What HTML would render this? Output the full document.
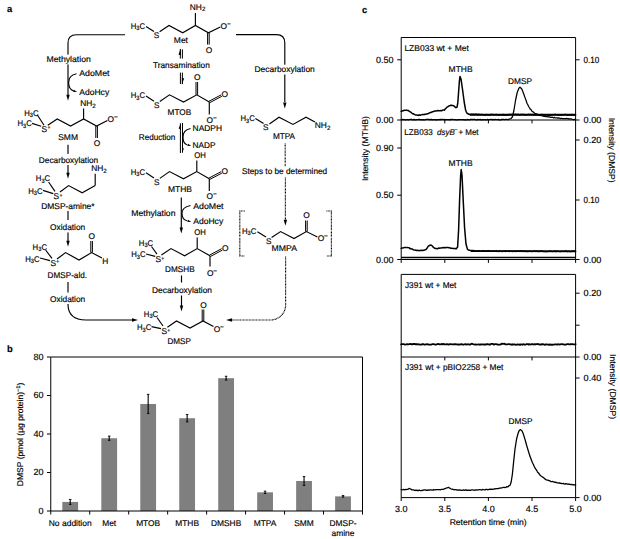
<!DOCTYPE html>
<html><head><meta charset="utf-8"><title>Figure</title>
<style>
html,body{margin:0;padding:0;background:#fff;}
svg{display:block;}
text{font-family:"Liberation Sans",sans-serif;font-size:8.4px;fill:#000000;stroke:#000000;stroke-width:0.16px;text-rendering:geometricPrecision;}
</style></head>
<body>
<svg width="620" height="539" viewBox="0 0 620 539">
<rect x="0" y="0" width="620" height="539" fill="#ffffff"/>
<text x="6.90" y="12.30" font-weight="bold" style="font-size:9.4px">a</text>
<text x="189.80" y="9.80">NH<tspan font-size="6.2" dy="1.6">2</tspan></text>
<path d="M195.40 13.00 L195.40 25.40" fill="none" stroke="#000000" stroke-width="1.15" stroke-linejoin="miter" stroke-linecap="butt"/>
<text x="130.70" y="28.70" textLength="14.4" lengthAdjust="spacingAndGlyphs">H<tspan font-size="6.2" dy="1.6">3</tspan><tspan dy="-1.6">C</tspan></text>
<text x="153.70" y="38.10" style="font-size:8.2px">S</text>
<path d="M146.00 26.40 L154.00 31.60" fill="none" stroke="#000000" stroke-width="1.15" stroke-linejoin="miter" stroke-linecap="butt"/>
<path d="M159.60 31.80 L169.00 25.40 L182.70 32.80 L195.40 25.40 L208.40 32.80 L220.30 27.00" fill="none" stroke="#000000" stroke-width="1.15" stroke-linejoin="miter" stroke-linecap="butt"/>
<text x="220.60" y="28.90">O<tspan font-size="6.4" dy="-3.3" dx="-0.2">−</tspan></text>
<path d="M207.60 32.80 L207.60 44.60" fill="none" stroke="#000000" stroke-width="1.0" stroke-linejoin="miter" stroke-linecap="butt"/>
<path d="M209.20 32.80 L209.20 44.60" fill="none" stroke="#000000" stroke-width="1.0" stroke-linejoin="miter" stroke-linecap="butt"/>
<text x="205.80" y="53.20">O</text>
<text x="173.80" y="42.90" textLength="14.20" lengthAdjust="spacingAndGlyphs">Met</text>
<path d="M125 34.7 L76.4 34.7 Q68.0 34.7 68.0 43 L68.0 95" fill="none" stroke="#000000" stroke-width="1.15"/>
<path d="M68.00 100.80 L66.30 94.80 L69.70 94.80 Z" fill="#000000"/>
<rect x="45.50" y="54.60" width="46.30" height="9.8" fill="#fff"/>
<text x="46.50" y="62.30" textLength="44.30" lengthAdjust="spacingAndGlyphs">Methylation</text>
<text x="79.20" y="76.30" textLength="30.30" lengthAdjust="spacingAndGlyphs">AdoMet</text>
<text x="79.20" y="94.90" textLength="30.00" lengthAdjust="spacingAndGlyphs">AdoHcy</text>
<path d="M76.5 73.8 Q68.6 75.4 68.6 82.6 Q68.6 89.4 73.6 91.0" fill="none" stroke="#000000" stroke-width="1.15"/>
<path d="M77.09 91.82 L73.11 92.07 L73.69 89.74 Z" fill="#000000"/>
<path d="M180.30 49.00 L180.30 58.60" fill="none" stroke="#000000" stroke-width="1.0" stroke-linejoin="miter" stroke-linecap="butt"/>
<path d="M182.40 49.40 L182.40 58.60" fill="none" stroke="#000000" stroke-width="1.0" stroke-linejoin="miter" stroke-linecap="butt"/>
<path d="M180.8 48.4 L178.5 54.4 L180.8 55.4 Z" fill="#000"/>
<rect x="152.00" y="60.10" width="58.80" height="9.8" fill="#fff"/>
<text x="153.00" y="67.80" textLength="56.80" lengthAdjust="spacingAndGlyphs">Transamination</text>
<path d="M180.40 72.60 L180.40 84.00" fill="none" stroke="#000000" stroke-width="1.0" stroke-linejoin="miter" stroke-linecap="butt"/>
<path d="M182.40 72.60 L182.40 84.00" fill="none" stroke="#000000" stroke-width="1.0" stroke-linejoin="miter" stroke-linecap="butt"/>
<path d="M181.9 84.8 L184.1 78.4 L181.9 77.4 Z" fill="#000"/>
<path d="M236 34.6 L276.5 34.6 Q284.8 34.6 284.8 43 L284.8 102" fill="none" stroke="#000000" stroke-width="1.15"/>
<path d="M284.80 108.50 L283.10 102.50 L286.50 102.50 Z" fill="#000000"/>
<rect x="253.50" y="64.70" width="62.30" height="9.8" fill="#fff"/>
<text x="254.50" y="72.40" textLength="60.30" lengthAdjust="spacingAndGlyphs">Decarboxylation</text>
<text x="194.00" y="80.00">O</text>
<path d="M196.00 82.00 L196.00 94.80" fill="none" stroke="#000000" stroke-width="1.0" stroke-linejoin="miter" stroke-linecap="butt"/>
<path d="M197.60 82.00 L197.60 94.80" fill="none" stroke="#000000" stroke-width="1.0" stroke-linejoin="miter" stroke-linecap="butt"/>
<text x="130.70" y="98.00" textLength="14.4" lengthAdjust="spacingAndGlyphs">H<tspan font-size="6.2" dy="1.6">3</tspan><tspan dy="-1.6">C</tspan></text>
<text x="154.10" y="107.90" style="font-size:8.2px">S</text>
<path d="M146.00 96.00 L154.00 101.20" fill="none" stroke="#000000" stroke-width="1.15" stroke-linejoin="miter" stroke-linecap="butt"/>
<path d="M159.80 101.40 L169.50 94.80 L183.50 102.00 L196.80 94.80 L209.30 102.00" fill="none" stroke="#000000" stroke-width="1.15" stroke-linejoin="miter" stroke-linecap="butt"/>
<path d="M209.67 102.71 L221.87 96.31" fill="none" stroke="#000000" stroke-width="1.0" stroke-linejoin="miter" stroke-linecap="butt"/>
<path d="M208.93 101.29 L221.13 94.89" fill="none" stroke="#000000" stroke-width="1.0" stroke-linejoin="miter" stroke-linecap="butt"/>
<text x="221.40" y="97.30">O</text>
<path d="M209.30 102.00 L209.30 114.60" fill="none" stroke="#000000" stroke-width="1.15" stroke-linejoin="miter" stroke-linecap="butt"/>
<text x="206.60" y="123.10">O<tspan font-size="6.4" dy="-3.3" dx="-0.2">−</tspan></text>
<text x="167.60" y="115.10" textLength="23.60" lengthAdjust="spacingAndGlyphs">MTOB</text>
<text x="138.80" y="140.10" textLength="36.60" lengthAdjust="spacingAndGlyphs">Reduction</text>
<path d="M180.40 123.40 L180.40 153.00" fill="none" stroke="#000000" stroke-width="1.0" stroke-linejoin="miter" stroke-linecap="butt"/>
<path d="M182.50 123.00 L182.50 152.60" fill="none" stroke="#000000" stroke-width="1.0" stroke-linejoin="miter" stroke-linecap="butt"/>
<path d="M180.9 122.8 L178.7 128.6 L180.9 129.6 Z" fill="#000"/>
<path d="M182.0 153.4 L183.9 148.6 L182.0 147.8 Z" fill="#000"/>
<text x="192.60" y="130.90" textLength="29.40" lengthAdjust="spacingAndGlyphs">NADPH</text>
<text x="192.60" y="147.50" textLength="23.00" lengthAdjust="spacingAndGlyphs">NADP</text>
<path d="M190.5 128.5 Q183 130 183 137 Q183 143.5 187 144.8" fill="none" stroke="#000000" stroke-width="1.15"/>
<path d="M191.29 145.72 L187.31 145.97 L187.89 143.64 Z" fill="#000000"/>
<text x="194.20" y="157.90" textLength="11.60" lengthAdjust="spacingAndGlyphs">OH</text>
<path d="M196.80 160.50 L196.80 171.60" fill="none" stroke="#000000" stroke-width="1.15" stroke-linejoin="miter" stroke-linecap="butt"/>
<text x="130.70" y="174.50" textLength="14.4" lengthAdjust="spacingAndGlyphs">H<tspan font-size="6.2" dy="1.6">3</tspan><tspan dy="-1.6">C</tspan></text>
<text x="154.10" y="184.50" style="font-size:8.2px">S</text>
<path d="M146.00 172.80 L154.00 178.00" fill="none" stroke="#000000" stroke-width="1.15" stroke-linejoin="miter" stroke-linecap="butt"/>
<path d="M159.80 178.40 L169.50 171.60 L183.50 178.80 L196.80 171.60 L209.30 178.80" fill="none" stroke="#000000" stroke-width="1.15" stroke-linejoin="miter" stroke-linecap="butt"/>
<path d="M209.67 179.51 L221.87 173.11" fill="none" stroke="#000000" stroke-width="1.0" stroke-linejoin="miter" stroke-linecap="butt"/>
<path d="M208.93 178.09 L221.13 171.69" fill="none" stroke="#000000" stroke-width="1.0" stroke-linejoin="miter" stroke-linecap="butt"/>
<text x="221.40" y="173.50">O</text>
<path d="M209.30 178.80 L209.30 191.00" fill="none" stroke="#000000" stroke-width="1.15" stroke-linejoin="miter" stroke-linecap="butt"/>
<text x="206.60" y="198.90">O<tspan font-size="6.4" dy="-3.3" dx="-0.2">−</tspan></text>
<text x="168.00" y="191.90" textLength="24.00" lengthAdjust="spacingAndGlyphs">MTHB</text>
<path d="M181.30 197.50 L181.30 228.00" fill="none" stroke="#000000" stroke-width="1.15" stroke-linejoin="miter" stroke-linecap="butt"/>
<path d="M181.30 233.50 L179.60 227.50 L183.00 227.50 Z" fill="#000000"/>
<rect x="130.20" y="208.20" width="46.30" height="9.8" fill="#fff"/>
<text x="131.20" y="215.90" textLength="44.30" lengthAdjust="spacingAndGlyphs">Methylation</text>
<text x="193.20" y="208.70" textLength="30.30" lengthAdjust="spacingAndGlyphs">AdoMet</text>
<text x="193.20" y="223.50" textLength="30.00" lengthAdjust="spacingAndGlyphs">AdoHcy</text>
<path d="M190.5 205.5 Q182 207 182 213.5 Q182 219.5 187 220.8" fill="none" stroke="#000000" stroke-width="1.15"/>
<path d="M191.29 221.72 L187.31 221.97 L187.89 219.64 Z" fill="#000000"/>
<text x="194.20" y="235.00" textLength="11.60" lengthAdjust="spacingAndGlyphs">OH</text>
<path d="M197.20 237.50 L197.20 248.60" fill="none" stroke="#000000" stroke-width="1.15" stroke-linejoin="miter" stroke-linecap="butt"/>
<text x="138.80" y="245.70" textLength="14.4" lengthAdjust="spacingAndGlyphs">H<tspan font-size="6.2" dy="1.6">3</tspan><tspan dy="-1.6">C</tspan></text>
<text x="131.20" y="257.30" textLength="14.4" lengthAdjust="spacingAndGlyphs">H<tspan font-size="6.2" dy="1.6">3</tspan><tspan dy="-1.6">C</tspan></text>
<text x="155.40" y="261.90">S<tspan font-size="5" dx="0.2" dy="-2.4">+</tspan></text>
<path d="M151.50 246.50 L157.00 254.20" fill="none" stroke="#000000" stroke-width="1.15" stroke-linejoin="miter" stroke-linecap="butt"/>
<path d="M146.00 254.00 L155.20 256.40" fill="none" stroke="#000000" stroke-width="1.15" stroke-linejoin="miter" stroke-linecap="butt"/>
<path d="M161.40 255.00 L171.00 248.60 L184.60 255.80 L197.20 248.60 L210.00 255.80" fill="none" stroke="#000000" stroke-width="1.15" stroke-linejoin="miter" stroke-linecap="butt"/>
<path d="M210.38 256.51 L222.38 250.11" fill="none" stroke="#000000" stroke-width="1.0" stroke-linejoin="miter" stroke-linecap="butt"/>
<path d="M209.62 255.09 L221.62 248.69" fill="none" stroke="#000000" stroke-width="1.0" stroke-linejoin="miter" stroke-linecap="butt"/>
<text x="222.00" y="251.30">O</text>
<path d="M210.00 255.80 L210.00 266.50" fill="none" stroke="#000000" stroke-width="1.15" stroke-linejoin="miter" stroke-linecap="butt"/>
<text x="207.00" y="276.30">O<tspan font-size="6.4" dy="-3.3" dx="-0.2">−</tspan></text>
<text x="165.00" y="271.90" textLength="29.60" lengthAdjust="spacingAndGlyphs">DMSHB</text>
<path d="M181.50 275.50 L181.50 282.50" fill="none" stroke="#000000" stroke-width="1.15" stroke-linejoin="miter" stroke-linecap="butt"/>
<rect x="151.00" y="285.40" width="62.00" height="9.8" fill="#fff"/>
<text x="152.00" y="293.10" textLength="60.00" lengthAdjust="spacingAndGlyphs">Decarboxylation</text>
<path d="M181.50 295.50 L181.50 306.00" fill="none" stroke="#000000" stroke-width="1.15" stroke-linejoin="miter" stroke-linecap="butt"/>
<path d="M181.50 311.50 L179.80 305.50 L183.20 305.50 Z" fill="#000000"/>
<text x="200.20" y="308.10">O</text>
<path d="M202.20 309.50 L202.20 321.00" fill="none" stroke="#000000" stroke-width="1.0" stroke-linejoin="miter" stroke-linecap="butt"/>
<path d="M203.80 309.50 L203.80 321.00" fill="none" stroke="#000000" stroke-width="1.0" stroke-linejoin="miter" stroke-linecap="butt"/>
<text x="143.80" y="316.70" textLength="14.4" lengthAdjust="spacingAndGlyphs">H<tspan font-size="6.2" dy="1.6">3</tspan><tspan dy="-1.6">C</tspan></text>
<text x="137.00" y="330.10" textLength="14.4" lengthAdjust="spacingAndGlyphs">H<tspan font-size="6.2" dy="1.6">3</tspan><tspan dy="-1.6">C</tspan></text>
<text x="161.40" y="333.90">S<tspan font-size="5" dx="0.2" dy="-2.4">+</tspan></text>
<path d="M157.00 317.50 L163.00 326.00" fill="none" stroke="#000000" stroke-width="1.15" stroke-linejoin="miter" stroke-linecap="butt"/>
<path d="M151.50 326.60 L161.00 328.60" fill="none" stroke="#000000" stroke-width="1.15" stroke-linejoin="miter" stroke-linecap="butt"/>
<path d="M167.40 327.20 L176.50 321.00 L190.00 328.00 L203.00 321.00 L213.50 326.60" fill="none" stroke="#000000" stroke-width="1.15" stroke-linejoin="miter" stroke-linecap="butt"/>
<text x="213.80" y="332.30">O<tspan font-size="6.4" dy="-3.3" dx="-0.2">−</tspan></text>
<text x="167.50" y="344.30" textLength="23.40" lengthAdjust="spacingAndGlyphs">DMSP</text>
<text x="80.20" y="106.10">NH<tspan font-size="6.2" dy="1.6">2</tspan></text>
<path d="M83.60 108.50 L83.60 119.00" fill="none" stroke="#000000" stroke-width="1.15" stroke-linejoin="miter" stroke-linecap="butt"/>
<text x="24.20" y="115.70" textLength="14.4" lengthAdjust="spacingAndGlyphs">H<tspan font-size="6.2" dy="1.6">3</tspan><tspan dy="-1.6">C</tspan></text>
<text x="17.50" y="126.30" textLength="14.4" lengthAdjust="spacingAndGlyphs">H<tspan font-size="6.2" dy="1.6">3</tspan><tspan dy="-1.6">C</tspan></text>
<text x="41.60" y="131.70">S<tspan font-size="5" dx="0.2" dy="-2.4">+</tspan></text>
<path d="M37.40 115.00 L44.00 125.20" fill="none" stroke="#000000" stroke-width="1.15" stroke-linejoin="miter" stroke-linecap="butt"/>
<path d="M32.00 123.40 L41.20 126.20" fill="none" stroke="#000000" stroke-width="1.15" stroke-linejoin="miter" stroke-linecap="butt"/>
<path d="M47.80 125.20 L57.20 119.00 L70.60 126.00 L83.60 119.00 L96.60 126.00 L107.40 120.60" fill="none" stroke="#000000" stroke-width="1.15" stroke-linejoin="miter" stroke-linecap="butt"/>
<text x="107.60" y="122.30">O<tspan font-size="6.4" dy="-3.3" dx="-0.2">−</tspan></text>
<path d="M95.80 126.00 L95.80 138.00" fill="none" stroke="#000000" stroke-width="1.0" stroke-linejoin="miter" stroke-linecap="butt"/>
<path d="M97.40 126.00 L97.40 138.00" fill="none" stroke="#000000" stroke-width="1.0" stroke-linejoin="miter" stroke-linecap="butt"/>
<text x="93.80" y="146.30">O</text>
<text x="58.20" y="139.70" textLength="19.80" lengthAdjust="spacingAndGlyphs">SMM</text>
<path d="M68.00 144.80 L68.00 154.00" fill="none" stroke="#000000" stroke-width="1.15" stroke-linejoin="miter" stroke-linecap="butt"/>
<rect x="37.80" y="155.00" width="61.40" height="9.8" fill="#fff"/>
<text x="38.80" y="162.70" textLength="59.40" lengthAdjust="spacingAndGlyphs">Decarboxylation</text>
<path d="M68.00 165.00 L68.00 173.00" fill="none" stroke="#000000" stroke-width="1.15" stroke-linejoin="miter" stroke-linecap="butt"/>
<path d="M68.00 178.70 L66.30 172.70 L69.70 172.70 Z" fill="#000000"/>
<text x="91.20" y="171.30">NH<tspan font-size="6.2" dy="1.6">2</tspan></text>
<path d="M95.20 173.80 L95.20 185.60" fill="none" stroke="#000000" stroke-width="1.15" stroke-linejoin="miter" stroke-linecap="butt"/>
<text x="35.80" y="181.10" textLength="14.4" lengthAdjust="spacingAndGlyphs">H<tspan font-size="6.2" dy="1.6">3</tspan><tspan dy="-1.6">C</tspan></text>
<text x="28.20" y="193.70" textLength="14.4" lengthAdjust="spacingAndGlyphs">H<tspan font-size="6.2" dy="1.6">3</tspan><tspan dy="-1.6">C</tspan></text>
<text x="53.60" y="198.90">S<tspan font-size="5" dx="0.2" dy="-2.4">+</tspan></text>
<path d="M48.60 182.00 L55.00 191.40" fill="none" stroke="#000000" stroke-width="1.15" stroke-linejoin="miter" stroke-linecap="butt"/>
<path d="M43.00 190.40 L53.20 193.60" fill="none" stroke="#000000" stroke-width="1.15" stroke-linejoin="miter" stroke-linecap="butt"/>
<path d="M60.00 192.00 L68.60 185.60 L82.20 192.80 L95.20 185.60" fill="none" stroke="#000000" stroke-width="1.15" stroke-linejoin="miter" stroke-linecap="butt"/>
<text x="41.20" y="208.70" textLength="53.40" lengthAdjust="spacingAndGlyphs">DMSP-amine*</text>
<path d="M68.00 211.00 L68.00 220.00" fill="none" stroke="#000000" stroke-width="1.15" stroke-linejoin="miter" stroke-linecap="butt"/>
<rect x="49.00" y="221.80" width="37.20" height="9.8" fill="#fff"/>
<text x="50.00" y="229.50" textLength="35.20" lengthAdjust="spacingAndGlyphs">Oxidation</text>
<path d="M68.00 232.50 L68.00 241.00" fill="none" stroke="#000000" stroke-width="1.15" stroke-linejoin="miter" stroke-linecap="butt"/>
<path d="M68.00 246.70 L66.30 240.70 L69.70 240.70 Z" fill="#000000"/>
<text x="88.40" y="238.80">O</text>
<path d="M90.80 241.00 L90.80 252.60" fill="none" stroke="#000000" stroke-width="1.0" stroke-linejoin="miter" stroke-linecap="butt"/>
<path d="M92.40 241.00 L92.40 252.60" fill="none" stroke="#000000" stroke-width="1.0" stroke-linejoin="miter" stroke-linecap="butt"/>
<text x="32.60" y="249.50" textLength="14.4" lengthAdjust="spacingAndGlyphs">H<tspan font-size="6.2" dy="1.6">3</tspan><tspan dy="-1.6">C</tspan></text>
<text x="25.20" y="261.50" textLength="14.4" lengthAdjust="spacingAndGlyphs">H<tspan font-size="6.2" dy="1.6">3</tspan><tspan dy="-1.6">C</tspan></text>
<text x="50.40" y="265.50">S<tspan font-size="5" dx="0.2" dy="-2.4">+</tspan></text>
<path d="M45.60 250.00 L52.00 258.40" fill="none" stroke="#000000" stroke-width="1.15" stroke-linejoin="miter" stroke-linecap="butt"/>
<path d="M40.00 258.00 L50.00 260.60" fill="none" stroke="#000000" stroke-width="1.15" stroke-linejoin="miter" stroke-linecap="butt"/>
<path d="M57.00 259.00 L65.60 252.60 L79.00 260.00 L91.60 252.60 L102.00 258.00" fill="none" stroke="#000000" stroke-width="1.15" stroke-linejoin="miter" stroke-linecap="butt"/>
<text x="102.20" y="263.70">H</text>
<text x="47.60" y="277.70" textLength="39.40" lengthAdjust="spacingAndGlyphs">DMSP-ald.</text>
<path d="M68.00 282.00 L68.00 292.40" fill="none" stroke="#000000" stroke-width="1.15" stroke-linejoin="miter" stroke-linecap="butt"/>
<rect x="49.00" y="294.00" width="37.20" height="9.8" fill="#fff"/>
<text x="50.00" y="301.70" textLength="35.20" lengthAdjust="spacingAndGlyphs">Oxidation</text>
<path d="M68 304 Q68 320 86 320 L132 320" fill="none" stroke="#000000" stroke-width="1.15"/>
<path d="M138.00 320.00 L132.00 321.70 L132.00 318.30 Z" fill="#000000"/>
<text x="240.40" y="121.30" textLength="14.4" lengthAdjust="spacingAndGlyphs">H<tspan font-size="6.2" dy="1.6">3</tspan><tspan dy="-1.6">C</tspan></text>
<text x="263.00" y="130.10" style="font-size:8.2px">S</text>
<path d="M255.40 118.40 L263.60 123.40" fill="none" stroke="#000000" stroke-width="1.15" stroke-linejoin="miter" stroke-linecap="butt"/>
<path d="M269.40 124.00 L279.00 117.20 L293.00 124.40 L306.00 117.20 L315.00 122.00" fill="none" stroke="#000000" stroke-width="1.15" stroke-linejoin="miter" stroke-linecap="butt"/>
<text x="314.80" y="128.30">NH<tspan font-size="6.2" dy="1.6">2</tspan></text>
<text x="272.90" y="139.10" textLength="22.20" lengthAdjust="spacingAndGlyphs">MTPA</text>
<path d="M285.20 143.60 L285.20 167.00" fill="none" stroke="#000000" stroke-width="1.15" stroke-dasharray="0.9 0.55" stroke-linejoin="miter" stroke-linecap="butt"/>
<rect x="241.00" y="166.40" width="87.20" height="9.8" fill="#fff"/>
<text x="242.00" y="174.10" textLength="85.20" lengthAdjust="spacingAndGlyphs">Steps to be determined</text>
<path d="M285.40 177.50 L285.40 220.00" fill="none" stroke="#000000" stroke-width="1.15" stroke-dasharray="0.9 0.55" stroke-linejoin="miter" stroke-linecap="butt"/>
<path d="M285.40 225.70 L283.70 219.70 L287.10 219.70 Z" fill="#000000"/>
<path d="M244.80 211.00 L239.80 211.00 L239.80 256.00 L244.80 256.00" fill="none" stroke="#000000" stroke-width="1.15" stroke-dasharray="0.9 0.55" stroke-linejoin="miter" stroke-linecap="butt"/>
<path d="M326.40 211.00 L331.40 211.00 L331.40 256.00 L326.40 256.00" fill="none" stroke="#000000" stroke-width="1.15" stroke-dasharray="0.9 0.55" stroke-linejoin="miter" stroke-linecap="butt"/>
<text x="303.20" y="218.10">O</text>
<path d="M305.60 220.50 L305.60 231.60" fill="none" stroke="#000000" stroke-width="1.0" stroke-linejoin="miter" stroke-linecap="butt"/>
<path d="M307.20 220.50 L307.20 231.60" fill="none" stroke="#000000" stroke-width="1.0" stroke-linejoin="miter" stroke-linecap="butt"/>
<text x="242.00" y="233.70" textLength="14.4" lengthAdjust="spacingAndGlyphs">H<tspan font-size="6.2" dy="1.6">3</tspan><tspan dy="-1.6">C</tspan></text>
<text x="265.90" y="243.90" style="font-size:8.2px">S</text>
<path d="M257.40 231.80 L266.00 237.00" fill="none" stroke="#000000" stroke-width="1.15" stroke-linejoin="miter" stroke-linecap="butt"/>
<path d="M271.60 237.60 L280.60 231.60 L294.00 238.60 L306.40 231.60 L317.40 237.00" fill="none" stroke="#000000" stroke-width="1.15" stroke-linejoin="miter" stroke-linecap="butt"/>
<text x="317.80" y="241.20">O<tspan font-size="6.4" dy="-3.3" dx="-0.2">−</tspan></text>
<text x="271.60" y="250.90" textLength="25.40" lengthAdjust="spacingAndGlyphs">MMPA</text>
<path d="M285.6 256.5 L285.6 305 A15 15 0 0 1 270.6 320 L232 320" fill="none" stroke="#000000" stroke-width="1.15" stroke-dasharray="0.9 0.55"/>
<path d="M226.10 320.00 L232.10 318.30 L232.10 321.70 Z" fill="#000000"/>
<text x="6.90" y="351.90" font-weight="bold" style="font-size:9.4px">b</text>
<rect x="62.33" y="501.95" width="15.80" height="9.05" fill="#7f7f7f"/>
<path d="M70.23 499.45 L70.23 504.45" fill="none" stroke="#000000" stroke-width="1.1" stroke-linejoin="miter" stroke-linecap="butt"/>
<path d="M68.98 499.45 L71.48 499.45" fill="none" stroke="#000000" stroke-width="0.9" stroke-linejoin="miter" stroke-linecap="butt"/>
<path d="M68.98 504.45 L71.48 504.45" fill="none" stroke="#000000" stroke-width="0.9" stroke-linejoin="miter" stroke-linecap="butt"/>
<text x="70.23" y="525.50" text-anchor="middle" textLength="43.00" lengthAdjust="spacingAndGlyphs">No addition</text>
<rect x="101.30" y="438.24" width="15.80" height="72.76" fill="#7f7f7f"/>
<path d="M109.20 436.12 L109.20 440.35" fill="none" stroke="#000000" stroke-width="1.1" stroke-linejoin="miter" stroke-linecap="butt"/>
<path d="M107.95 436.12 L110.45 436.12" fill="none" stroke="#000000" stroke-width="0.9" stroke-linejoin="miter" stroke-linecap="butt"/>
<path d="M107.95 440.35 L110.45 440.35" fill="none" stroke="#000000" stroke-width="0.9" stroke-linejoin="miter" stroke-linecap="butt"/>
<text x="109.20" y="525.50" text-anchor="middle">Met</text>
<rect x="140.27" y="403.97" width="15.80" height="107.03" fill="#7f7f7f"/>
<path d="M148.17 394.35 L148.17 413.60" fill="none" stroke="#000000" stroke-width="1.1" stroke-linejoin="miter" stroke-linecap="butt"/>
<path d="M146.92 394.35 L149.42 394.35" fill="none" stroke="#000000" stroke-width="0.9" stroke-linejoin="miter" stroke-linecap="butt"/>
<path d="M146.92 413.60 L149.42 413.60" fill="none" stroke="#000000" stroke-width="0.9" stroke-linejoin="miter" stroke-linecap="butt"/>
<text x="148.17" y="525.50" text-anchor="middle">MTOB</text>
<rect x="179.24" y="418.22" width="15.80" height="92.78" fill="#7f7f7f"/>
<path d="M187.14 414.56 L187.14 421.87" fill="none" stroke="#000000" stroke-width="1.1" stroke-linejoin="miter" stroke-linecap="butt"/>
<path d="M185.89 414.56 L188.39 414.56" fill="none" stroke="#000000" stroke-width="0.9" stroke-linejoin="miter" stroke-linecap="butt"/>
<path d="M185.89 421.87 L188.39 421.87" fill="none" stroke="#000000" stroke-width="0.9" stroke-linejoin="miter" stroke-linecap="butt"/>
<text x="187.14" y="525.50" text-anchor="middle">MTHB</text>
<rect x="218.21" y="378.18" width="15.80" height="132.82" fill="#7f7f7f"/>
<path d="M226.11 376.25 L226.11 380.10" fill="none" stroke="#000000" stroke-width="1.1" stroke-linejoin="miter" stroke-linecap="butt"/>
<path d="M224.86 376.25 L227.36 376.25" fill="none" stroke="#000000" stroke-width="0.9" stroke-linejoin="miter" stroke-linecap="butt"/>
<path d="M224.86 380.10 L227.36 380.10" fill="none" stroke="#000000" stroke-width="0.9" stroke-linejoin="miter" stroke-linecap="butt"/>
<text x="226.11" y="525.50" text-anchor="middle">DMSHB</text>
<rect x="257.18" y="492.33" width="15.80" height="18.67" fill="#7f7f7f"/>
<path d="M265.08 491.17 L265.08 493.48" fill="none" stroke="#000000" stroke-width="1.1" stroke-linejoin="miter" stroke-linecap="butt"/>
<path d="M263.83 491.17 L266.33 491.17" fill="none" stroke="#000000" stroke-width="0.9" stroke-linejoin="miter" stroke-linecap="butt"/>
<path d="M263.83 493.48 L266.33 493.48" fill="none" stroke="#000000" stroke-width="0.9" stroke-linejoin="miter" stroke-linecap="butt"/>
<text x="265.08" y="525.50" text-anchor="middle">MTPA</text>
<rect x="296.15" y="480.97" width="15.80" height="30.03" fill="#7f7f7f"/>
<path d="M304.05 476.54 L304.05 485.40" fill="none" stroke="#000000" stroke-width="1.1" stroke-linejoin="miter" stroke-linecap="butt"/>
<path d="M302.80 476.54 L305.30 476.54" fill="none" stroke="#000000" stroke-width="0.9" stroke-linejoin="miter" stroke-linecap="butt"/>
<path d="M302.80 485.40 L305.30 485.40" fill="none" stroke="#000000" stroke-width="0.9" stroke-linejoin="miter" stroke-linecap="butt"/>
<text x="304.05" y="525.50" text-anchor="middle">SMM</text>
<rect x="335.12" y="496.37" width="15.80" height="14.63" fill="#7f7f7f"/>
<path d="M343.02 495.60 L343.02 497.14" fill="none" stroke="#000000" stroke-width="1.1" stroke-linejoin="miter" stroke-linecap="butt"/>
<path d="M341.77 495.60 L344.27 495.60" fill="none" stroke="#000000" stroke-width="0.9" stroke-linejoin="miter" stroke-linecap="butt"/>
<path d="M341.77 497.14 L344.27 497.14" fill="none" stroke="#000000" stroke-width="0.9" stroke-linejoin="miter" stroke-linecap="butt"/>
<text x="343.02" y="525.50" text-anchor="middle">DMSP-</text>
<text x="343.02" y="535.90" text-anchor="middle">amine</text>
<path d="M50.75 514.50 L50.75 357.00 L362.50 357.00 L362.50 514.50" fill="none" stroke="#000000" stroke-width="1.0" stroke-linejoin="miter" stroke-linecap="butt"/>
<path d="M50.75 511.00 L362.50 511.00" fill="none" stroke="#000000" stroke-width="1.0" stroke-linejoin="miter" stroke-linecap="butt"/>
<path d="M89.72 511.00 L89.72 514.50" fill="none" stroke="#000000" stroke-width="1.0" stroke-linejoin="miter" stroke-linecap="butt"/>
<path d="M128.69 511.00 L128.69 514.50" fill="none" stroke="#000000" stroke-width="1.0" stroke-linejoin="miter" stroke-linecap="butt"/>
<path d="M167.66 511.00 L167.66 514.50" fill="none" stroke="#000000" stroke-width="1.0" stroke-linejoin="miter" stroke-linecap="butt"/>
<path d="M206.62 511.00 L206.62 514.50" fill="none" stroke="#000000" stroke-width="1.0" stroke-linejoin="miter" stroke-linecap="butt"/>
<path d="M245.59 511.00 L245.59 514.50" fill="none" stroke="#000000" stroke-width="1.0" stroke-linejoin="miter" stroke-linecap="butt"/>
<path d="M284.56 511.00 L284.56 514.50" fill="none" stroke="#000000" stroke-width="1.0" stroke-linejoin="miter" stroke-linecap="butt"/>
<path d="M323.53 511.00 L323.53 514.50" fill="none" stroke="#000000" stroke-width="1.0" stroke-linejoin="miter" stroke-linecap="butt"/>
<path d="M46.95 511.00 L50.75 511.00" fill="none" stroke="#000000" stroke-width="1.0" stroke-linejoin="miter" stroke-linecap="butt"/>
<text x="43.40" y="513.70" text-anchor="end" style="font-size:9.0px">0</text>
<path d="M46.95 472.50 L50.75 472.50" fill="none" stroke="#000000" stroke-width="1.0" stroke-linejoin="miter" stroke-linecap="butt"/>
<text x="43.40" y="475.20" text-anchor="end" style="font-size:9.0px">20</text>
<path d="M46.95 434.00 L50.75 434.00" fill="none" stroke="#000000" stroke-width="1.0" stroke-linejoin="miter" stroke-linecap="butt"/>
<text x="43.40" y="436.70" text-anchor="end" style="font-size:9.0px">40</text>
<path d="M46.95 395.50 L50.75 395.50" fill="none" stroke="#000000" stroke-width="1.0" stroke-linejoin="miter" stroke-linecap="butt"/>
<text x="43.40" y="398.20" text-anchor="end" style="font-size:9.0px">60</text>
<path d="M46.95 357.00 L50.75 357.00" fill="none" stroke="#000000" stroke-width="1.0" stroke-linejoin="miter" stroke-linecap="butt"/>
<text x="43.40" y="359.70" text-anchor="end" style="font-size:9.0px">80</text>
<text transform="translate(23.2 434.4) rotate(-90)" text-anchor="middle" textLength="103.5" lengthAdjust="spacingAndGlyphs">DMSP (pmol (µg protein)<tspan font-size="5.6" dy="-3">−1</tspan><tspan dy="3">)</tspan></text>
<text x="362.00" y="12.90" font-weight="bold" style="font-size:9.4px">c</text>
<path d="M401.20 111.40 L402.10 110.99 L403.00 110.59 L403.75 110.74 L404.50 110.24 L405.25 110.37 L406.00 110.12 L406.83 110.13 L407.67 110.60 L408.50 110.52 L409.33 111.36 L410.17 111.74 L411.00 112.35 L411.75 113.00 L412.50 113.70 L413.25 113.72 L414.00 114.23 L414.88 114.68 L415.75 115.07 L416.62 115.05 L417.50 115.14 L418.38 115.44 L419.25 114.83 L420.12 115.27 L421.00 114.87 L421.80 114.67 L422.60 114.53 L423.40 114.53 L424.20 114.71 L425.00 114.21 L425.80 114.25 L426.60 114.08 L427.40 113.72 L428.20 113.63 L429.00 113.14 L429.75 112.79 L430.50 112.52 L431.25 112.46 L432.00 111.96 L432.75 111.64 L433.50 111.55 L434.25 111.22 L435.00 110.88 L435.75 111.08 L436.50 110.92 L437.25 110.55 L438.00 110.64 L438.75 110.62 L439.50 110.83 L440.25 110.74 L441.00 110.47 L441.88 110.74 L442.75 110.07 L443.62 110.10 L444.50 110.15 L445.25 108.89 L446.00 108.19 L446.83 107.19 L447.67 106.83 L448.50 106.16 L449.33 105.78 L450.17 105.69 L451.00 105.09 L451.83 105.45 L452.67 105.52 L453.50 105.65 L454.50 106.37 L455.50 107.40 L456.25 107.47 L457.00 107.20 L457.80 103.00 L458.60 92.00 L459.40 81.00 L460.00 76.40 L461.00 79.00 L461.80 84.50 L462.60 90.00 L463.40 96.00 L464.20 102.00 L464.90 106.00 L465.60 109.98 L466.30 111.80 L467.00 113.14 L467.83 113.79 L468.67 114.02 L469.50 114.50 L470.29 114.44 L471.07 114.16 L471.86 114.26 L472.64 114.47 L473.43 114.13 L474.21 114.43 L475.00 114.30 L475.83 114.29 L476.67 114.27 L477.50 114.71 L478.33 114.34 L479.17 114.43 L480.00 114.53 L480.83 114.84 L481.67 114.38 L482.50 114.62 L483.33 114.70 L484.17 114.91 L485.00 114.89 L485.79 114.92 L486.58 114.58 L487.37 114.66 L488.16 114.64 L488.95 114.96 L489.74 115.01 L490.53 114.53 L491.32 114.55 L492.11 114.59 L492.89 114.59 L493.68 114.75 L494.47 114.82 L495.26 114.63 L496.05 114.48 L496.84 114.73 L497.63 114.71 L498.42 114.83 L499.21 115.07 L500.00 114.91 L500.80 114.80 L501.60 114.85 L502.40 114.88 L503.20 114.50 L504.00 115.00 L504.80 114.92 L505.60 114.97 L506.40 114.91 L507.20 114.66 L508.00 114.66 L508.80 114.47 L509.60 114.78 L510.40 114.43 L511.20 114.43 L512.00 114.51 L512.80 114.47 L513.60 114.57 L514.40 114.39 L515.20 114.35 L516.00 114.43 L516.80 114.39 L517.60 114.54 L518.40 114.33 L519.20 114.83 L520.00 114.67 L520.81 114.40 L521.61 114.46 L522.42 114.53 L523.23 114.54 L524.03 114.41 L524.84 114.85 L525.65 114.94 L526.45 114.63 L527.26 114.65 L528.06 114.42 L528.87 114.43 L529.68 114.58 L530.48 114.54 L531.29 114.89 L532.10 114.49 L532.90 114.42 L533.71 114.98 L534.52 114.73 L535.32 114.51 L536.13 114.75 L536.94 114.45 L537.74 114.76 L538.55 115.04 L539.35 114.97 L540.16 114.88 L540.97 114.62 L541.77 114.69 L542.58 114.58 L543.39 114.95 L544.19 114.81 L545.00 114.97 L545.81 114.70 L546.61 114.63 L547.42 114.99 L548.22 115.09 L549.03 115.01 L549.83 114.98 L550.64 114.99 L551.44 114.94 L552.25 114.64 L553.05 114.81 L553.86 114.71 L554.66 114.52 L555.47 114.52 L556.27 114.67 L557.08 114.66 L557.88 114.92 L558.69 115.07 L559.49 114.77 L560.30 115.06 L561.11 115.09 L561.91 115.07 L562.72 114.72 L563.52 114.63 L564.33 114.64 L565.13 114.62 L565.94 114.62 L566.74 114.87 L567.55 115.04 L568.35 115.00 L569.16 114.79 L569.96 114.89 L570.77 114.98 L571.57 114.55 L572.38 114.90 L573.18 115.05 L573.99 114.97 L574.79 114.95 L575.60 114.80" fill="none" stroke="#000000" stroke-width="1.5" stroke-linejoin="round" stroke-linecap="round"/>
<path d="M470.00 114.70 L575.60 114.80" fill="none" stroke="#000000" stroke-width="1.9" stroke-linejoin="miter" stroke-linecap="butt"/>
<path d="M401.20 119.60 L402.00 119.59 L402.80 119.41 L403.60 119.77 L404.39 119.50 L405.19 119.78 L405.99 119.88 L406.79 119.54 L407.59 119.54 L408.39 119.87 L409.18 119.73 L409.98 119.40 L410.78 119.38 L411.58 119.39 L412.38 119.84 L413.18 119.78 L413.98 119.39 L414.77 119.80 L415.57 119.89 L416.37 119.69 L417.17 119.51 L417.97 119.63 L418.77 119.38 L419.56 119.31 L420.36 119.88 L421.16 119.69 L421.96 119.62 L422.76 119.86 L423.56 119.56 L424.36 119.82 L425.15 119.80 L425.95 119.43 L426.75 119.45 L427.55 119.48 L428.35 119.44 L429.15 119.65 L429.94 119.46 L430.74 119.55 L431.54 119.38 L432.34 119.85 L433.14 119.51 L433.94 119.57 L434.74 119.65 L435.53 119.84 L436.33 119.55 L437.13 119.85 L437.93 119.60 L438.73 119.62 L439.53 119.61 L440.32 119.31 L441.12 119.56 L441.92 119.41 L442.72 119.30 L443.52 119.78 L444.32 119.40 L445.12 119.58 L445.91 119.74 L446.71 119.63 L447.51 119.50 L448.31 119.61 L449.11 119.63 L449.91 119.77 L450.70 119.36 L451.50 119.64 L452.30 119.45 L453.10 119.47 L453.90 119.76 L454.70 119.60 L455.50 119.64 L456.29 119.76 L457.09 119.85 L457.89 119.57 L458.69 119.67 L459.49 119.60 L460.29 119.61 L461.08 119.72 L461.88 119.57 L462.68 119.62 L463.48 119.59 L464.28 119.86 L465.08 119.72 L465.88 119.83 L466.67 119.87 L467.47 119.46 L468.27 119.64 L469.07 119.87 L469.87 119.80 L470.67 119.38 L471.46 119.37 L472.26 119.57 L473.06 119.34 L473.86 119.44 L474.66 119.34 L475.46 119.70 L476.26 119.77 L477.05 119.84 L477.85 119.39 L478.65 119.73 L479.45 119.70 L480.25 119.39 L481.05 119.83 L481.84 119.88 L482.64 119.43 L483.44 119.87 L484.24 119.54 L485.04 119.59 L485.84 119.89 L486.64 119.80 L487.43 119.40 L488.23 119.56 L489.03 119.61 L489.83 119.50 L490.63 119.42 L491.43 119.49 L492.22 119.73 L493.02 119.31 L493.82 119.63 L494.62 119.56 L495.42 119.31 L496.22 119.50 L497.02 119.67 L497.81 119.61 L498.61 119.34 L499.41 119.89 L500.21 119.77 L501.01 119.88 L501.81 119.36 L502.60 119.46 L503.40 119.32 L504.20 119.77 L505.00 119.46 L505.83 119.31 L506.67 119.42 L507.50 119.65 L508.33 119.52 L509.17 119.12 L510.00 118.99 L510.80 118.72 L511.60 117.78 L512.40 117.00 L513.20 113.50 L514.00 110.00 L514.80 105.00 L515.60 100.00 L516.40 96.25 L517.20 92.50 L518.00 90.45 L518.80 88.52 L519.40 87.65 L520.00 87.13 L520.70 88.01 L521.40 88.36 L522.20 89.94 L523.00 92.00 L524.00 94.80 L525.00 97.60 L526.00 100.30 L527.00 103.26 L527.83 104.75 L528.67 106.51 L529.50 107.75 L530.25 109.11 L531.00 109.54 L531.75 110.92 L532.50 111.57 L533.38 112.10 L534.25 112.83 L535.12 113.66 L536.00 113.86 L536.83 114.08 L537.67 114.62 L538.50 114.74 L539.33 114.97 L540.17 115.30 L541.00 115.53 L541.78 115.75 L542.56 115.95 L543.33 116.08 L544.11 116.49 L544.89 116.34 L545.67 116.60 L546.44 116.54 L547.22 116.77 L548.00 116.71 L548.80 116.93 L549.60 116.87 L550.40 117.38 L551.20 117.35 L552.00 117.21 L552.80 117.46 L553.60 117.82 L554.40 117.40 L555.20 117.91 L556.00 117.76 L556.82 117.87 L557.64 118.15 L558.45 117.95 L559.27 118.09 L560.09 118.28 L560.91 118.53 L561.73 118.21 L562.55 118.58 L563.36 118.58 L564.18 118.61 L565.00 118.54 L565.82 118.59 L566.63 118.49 L567.45 118.61 L568.26 118.65 L569.08 119.13 L569.89 118.91 L570.71 118.94 L571.52 118.97 L572.34 119.50 L573.15 119.59 L573.97 119.55 L574.78 119.39 L575.60 119.60" fill="none" stroke="#000000" stroke-width="1.25" stroke-linejoin="round" stroke-linecap="round"/>
<path d="M401.20 248.40 L401.90 248.10 L402.60 247.98 L403.30 247.93 L404.00 247.59 L404.88 247.62 L405.75 247.36 L406.62 247.63 L407.50 247.48 L408.33 247.63 L409.17 247.85 L410.00 248.68 L410.80 248.61 L411.60 248.95 L412.40 249.06 L413.20 249.61 L414.00 249.98 L414.75 250.13 L415.50 250.09 L416.25 250.40 L417.00 250.24 L417.75 250.53 L418.50 250.55 L419.25 250.67 L420.00 250.39 L420.75 250.31 L421.50 250.42 L422.25 250.31 L423.00 250.45 L423.75 250.17 L424.50 250.05 L425.25 249.74 L426.00 249.53 L427.00 248.23 L428.00 246.53 L429.00 245.70 L430.00 245.29 L431.00 245.09 L432.00 245.73 L433.00 246.89 L434.00 247.73 L434.75 248.35 L435.50 248.54 L436.25 248.53 L437.00 248.74 L437.75 248.64 L438.50 248.08 L439.25 248.16 L440.00 248.00 L440.80 248.08 L441.60 247.94 L442.40 247.84 L443.20 247.57 L444.00 247.64 L444.80 247.59 L445.60 247.68 L446.40 247.48 L447.20 247.44 L448.00 247.58 L448.80 247.80 L449.60 247.72 L450.40 248.24 L451.20 248.16 L452.00 248.28 L452.80 248.40 L453.60 248.55 L454.40 248.55 L455.20 248.38 L456.00 248.98 L456.80 248.05 L457.60 247.00 L458.60 230.00 L459.60 200.00 L460.60 176.00 L461.20 169.60 L462.00 175.00 L463.20 200.00 L463.90 214.00 L464.60 228.00 L465.30 236.00 L466.00 244.00 L466.75 246.70 L467.50 249.40 L468.33 249.82 L469.17 250.30 L470.00 250.34 L470.83 250.78 L471.67 250.52 L472.50 250.44 L473.33 250.59 L474.17 250.90 L475.00 250.62 L475.83 250.98 L476.67 251.15 L477.50 250.90 L478.33 250.86 L479.17 250.95 L480.00 251.11 L480.80 251.17 L481.60 251.09 L482.40 251.11 L483.20 250.78 L484.00 250.83 L484.80 250.90 L485.60 251.20 L486.40 250.95 L487.20 251.11 L488.00 250.79 L488.80 250.82 L489.60 250.96 L490.40 251.21 L491.20 251.23 L492.00 251.23 L492.80 251.00 L493.60 251.15 L494.40 251.12 L495.20 251.13 L496.00 250.93 L496.80 251.40 L497.60 251.00 L498.40 251.47 L499.20 251.45 L500.00 250.91 L500.79 251.18 L501.58 251.39 L502.37 251.48 L503.16 251.17 L503.95 251.06 L504.74 251.03 L505.53 251.47 L506.32 251.03 L507.11 251.25 L507.89 250.99 L508.68 251.21 L509.47 251.47 L510.26 250.98 L511.05 251.39 L511.84 251.21 L512.63 251.43 L513.42 251.32 L514.21 251.04 L515.00 251.44 L515.79 251.19 L516.58 250.91 L517.37 250.90 L518.16 251.20 L518.95 251.17 L519.74 251.08 L520.53 250.98 L521.32 251.11 L522.11 251.09 L522.89 251.40 L523.68 250.90 L524.47 251.35 L525.26 251.40 L526.05 250.97 L526.84 251.46 L527.63 251.33 L528.42 251.44 L529.21 251.07 L530.00 251.12 L530.80 251.14 L531.60 251.50 L532.40 251.26 L533.20 251.12 L534.00 251.17 L534.80 251.08 L535.60 250.94 L536.40 250.98 L537.20 251.42 L538.00 251.09 L538.80 251.48 L539.60 251.07 L540.40 251.08 L541.20 251.23 L542.00 251.04 L542.80 251.15 L543.60 251.50 L544.40 251.46 L545.20 251.42 L546.00 251.31 L546.80 251.48 L547.60 251.50 L548.40 251.27 L549.20 251.37 L550.00 250.97 L550.80 251.39 L551.60 251.22 L552.40 251.40 L553.20 251.34 L554.00 251.12 L554.80 250.98 L555.60 251.51 L556.40 251.03 L557.20 251.24 L558.00 251.17 L558.80 251.14 L559.60 251.41 L560.40 251.55 L561.20 251.12 L562.00 251.36 L562.80 251.15 L563.60 251.31 L564.40 251.21 L565.20 251.08 L566.00 251.08 L566.80 251.11 L567.60 251.53 L568.40 251.28 L569.20 251.12 L570.00 251.53 L570.80 251.59 L571.60 251.26 L572.40 251.08 L573.20 251.11 L574.00 251.05 L574.80 251.20 L575.60 251.30" fill="none" stroke="#000000" stroke-width="1.5" stroke-linejoin="round" stroke-linecap="round"/>
<path d="M471.00 251.10 L575.60 251.30" fill="none" stroke="#000000" stroke-width="1.7" stroke-linejoin="miter" stroke-linecap="butt"/>
<path d="M401.20 257.50 L575.60 257.50" fill="none" stroke="#000000" stroke-width="1.6" stroke-linejoin="miter" stroke-linecap="butt"/>
<path d="M401.20 344.40 L401.99 344.14 L402.77 344.22 L403.56 344.22 L404.35 344.39 L405.13 344.57 L405.92 344.47 L406.71 344.25 L407.49 344.24 L408.28 344.29 L409.07 344.19 L409.85 344.16 L410.64 343.98 L411.43 344.09 L412.21 344.49 L413.00 343.98 L413.75 344.00 L414.50 343.88 L415.25 344.32 L416.00 344.23 L416.80 344.26 L417.60 344.25 L418.40 344.34 L419.20 344.37 L420.00 344.67 L420.80 344.61 L421.60 344.62 L422.40 344.11 L423.20 344.12 L424.00 344.53 L424.80 344.64 L425.60 344.38 L426.40 344.45 L427.20 344.10 L428.00 344.33 L428.80 344.66 L429.60 344.60 L430.40 344.61 L431.20 344.68 L432.00 344.25 L432.80 344.17 L433.60 344.19 L434.40 344.41 L435.20 344.51 L436.00 344.66 L437.00 344.23 L438.00 343.89 L439.00 344.26 L440.00 344.37 L440.80 344.35 L441.60 343.96 L442.40 344.33 L443.20 343.92 L444.00 344.25 L445.00 344.29 L446.00 344.28 L446.80 344.18 L447.60 344.25 L448.40 344.48 L449.20 344.52 L450.00 344.17 L450.80 344.14 L451.60 344.41 L452.40 344.45 L453.20 344.33 L454.00 344.23 L454.80 344.46 L455.60 344.11 L456.40 344.28 L457.20 344.38 L458.00 344.68 L458.80 344.49 L459.60 344.63 L460.40 344.39 L461.20 344.24 L462.00 344.25 L462.80 344.68 L463.60 344.52 L464.40 344.28 L465.20 344.11 L466.00 344.40 L466.80 344.50 L467.60 344.35 L468.40 344.25 L469.20 344.50 L470.00 344.66 L471.00 344.04 L472.00 343.72 L473.00 344.15 L474.00 344.45 L474.80 344.60 L475.60 344.31 L476.40 344.66 L477.20 344.62 L478.00 344.48 L478.80 344.29 L479.60 344.75 L480.40 344.35 L481.20 344.65 L482.00 344.29 L482.80 344.28 L483.60 344.60 L484.40 344.31 L485.20 344.70 L486.00 344.42 L486.80 344.23 L487.60 344.25 L488.40 344.36 L489.20 344.50 L490.00 344.67 L491.00 343.94 L492.00 343.84 L493.00 343.98 L494.00 344.68 L494.75 344.19 L495.50 344.13 L496.25 344.14 L497.00 344.34 L497.75 344.64 L498.50 344.63 L499.25 344.54 L500.00 344.70 L500.75 344.46 L501.50 343.90 L502.25 343.61 L503.00 343.86 L503.75 343.95 L504.50 343.72 L505.25 344.30 L506.00 344.33 L506.78 344.34 L507.56 344.32 L508.33 344.23 L509.11 344.15 L509.89 344.32 L510.67 344.38 L511.44 344.75 L512.22 344.26 L513.00 344.78 L513.78 344.34 L514.56 344.44 L515.33 344.73 L516.11 344.74 L516.89 344.52 L517.67 344.30 L518.44 344.56 L519.22 344.51 L520.00 344.85 L520.79 344.39 L521.58 344.48 L522.37 344.78 L523.16 344.23 L523.95 344.44 L524.74 344.66 L525.53 344.61 L526.32 344.16 L527.11 344.13 L527.89 344.13 L528.68 344.62 L529.47 344.20 L530.26 344.47 L531.05 344.54 L531.84 344.19 L532.63 344.13 L533.42 344.52 L534.21 344.29 L535.00 344.06 L535.79 344.35 L536.58 344.13 L537.37 344.13 L538.16 343.99 L538.95 344.46 L539.74 344.58 L540.53 344.43 L541.32 344.63 L542.11 344.10 L542.89 344.25 L543.68 344.42 L544.47 344.73 L545.26 344.75 L546.05 344.43 L546.84 344.37 L547.63 344.49 L548.42 344.55 L549.21 344.84 L550.00 344.41 L550.80 344.77 L551.60 344.72 L552.40 344.76 L553.20 344.71 L554.00 344.60 L554.80 344.42 L555.60 344.40 L556.40 344.42 L557.20 344.66 L558.00 344.22 L558.80 344.28 L559.60 344.60 L560.40 344.29 L561.20 344.16 L562.00 344.13 L562.80 344.43 L563.60 344.28 L564.40 344.66 L565.20 344.59 L566.00 344.64 L566.80 344.20 L567.60 344.08 L568.40 344.07 L569.20 344.30 L570.00 344.41 L570.80 344.24 L571.60 344.10 L572.40 344.20 L573.20 344.31 L574.00 344.33 L574.80 344.36 L575.60 344.20" fill="none" stroke="#000000" stroke-width="1.8" stroke-linejoin="round" stroke-linecap="round"/>
<path d="M401.20 489.60 L402.00 489.81 L402.80 489.70 L403.60 489.37 L404.40 489.80 L405.20 489.48 L406.00 489.64 L407.00 489.32 L408.00 489.34 L408.75 488.72 L409.50 488.45 L410.25 488.85 L411.00 489.19 L411.75 489.83 L412.50 489.85 L413.25 489.90 L414.00 490.14 L414.75 490.52 L415.50 490.25 L416.25 490.11 L417.00 490.49 L417.75 490.42 L418.50 490.64 L419.25 490.14 L420.00 490.38 L420.80 490.55 L421.60 490.52 L422.40 490.53 L423.20 489.96 L424.00 490.08 L424.80 489.93 L425.60 489.93 L426.40 490.36 L427.20 490.09 L428.00 490.26 L428.80 489.90 L429.60 490.18 L430.40 489.91 L431.20 489.78 L432.00 490.07 L432.80 490.15 L433.60 489.62 L434.40 489.90 L435.20 489.89 L436.00 489.63 L436.75 489.70 L437.50 489.53 L438.25 489.55 L439.00 489.55 L439.75 489.73 L440.50 489.74 L441.25 489.45 L442.00 489.31 L442.75 489.30 L443.50 489.31 L444.25 488.81 L445.00 488.69 L446.00 488.12 L447.00 487.98 L447.75 487.73 L448.50 487.34 L449.25 487.76 L450.00 488.34 L450.75 488.73 L451.50 489.08 L452.25 489.05 L453.00 489.40 L453.83 489.78 L454.67 489.68 L455.50 489.67 L456.33 489.75 L457.17 490.21 L458.00 489.89 L458.80 490.06 L459.60 489.95 L460.40 490.01 L461.20 490.30 L462.00 490.40 L462.80 490.04 L463.60 489.96 L464.40 490.30 L465.20 490.00 L466.00 489.90 L466.83 490.42 L467.67 490.12 L468.50 490.34 L469.33 490.08 L470.17 490.35 L471.00 490.08 L471.83 489.88 L472.67 489.78 L473.50 490.08 L474.33 490.12 L475.17 490.26 L476.00 489.75 L476.83 490.04 L477.67 489.86 L478.50 489.90 L479.33 489.65 L480.17 489.70 L481.00 489.81 L481.83 490.02 L482.67 489.50 L483.50 489.69 L484.33 489.85 L485.17 489.91 L486.00 489.42 L486.80 489.32 L487.60 489.75 L488.40 489.71 L489.20 489.35 L490.00 489.03 L490.80 489.50 L491.60 489.11 L492.40 489.36 L493.20 489.13 L494.00 489.19 L494.75 488.70 L495.50 488.97 L496.25 488.53 L497.00 488.54 L497.75 488.71 L498.50 488.60 L499.25 488.11 L500.00 488.03 L500.83 488.01 L501.67 487.94 L502.50 487.73 L503.33 487.44 L504.17 487.38 L505.00 487.53 L505.75 487.44 L506.50 486.72 L507.25 486.84 L508.00 486.75 L509.00 485.72 L510.00 485.40 L511.20 482.00 L512.40 474.00 L513.00 468.00 L513.60 462.00 L514.30 455.50 L515.00 449.00 L515.80 444.00 L516.60 439.00 L517.40 435.90 L518.20 433.00 L518.90 431.17 L519.60 430.06 L520.60 429.63 L521.80 430.68 L522.50 431.98 L523.20 433.60 L524.10 436.50 L525.00 439.40 L526.00 443.00 L527.00 446.60 L527.80 449.27 L528.60 451.93 L529.40 454.60 L530.27 456.93 L531.13 459.27 L532.00 461.55 L532.75 463.25 L533.50 464.76 L534.25 466.50 L535.00 467.97 L535.75 469.11 L536.50 470.01 L537.25 471.52 L538.00 472.59 L538.75 473.29 L539.50 474.46 L540.25 475.32 L541.00 475.97 L541.75 476.36 L542.50 477.08 L543.25 477.41 L544.00 477.98 L544.80 478.86 L545.60 479.36 L546.40 479.83 L547.20 480.14 L548.00 480.12 L548.80 480.72 L549.60 480.63 L550.40 481.26 L551.20 481.53 L552.00 481.61 L552.75 481.48 L553.50 481.90 L554.25 481.98 L555.00 482.47 L555.75 482.13 L556.50 482.71 L557.25 482.95 L558.00 482.94 L558.78 483.10 L559.56 482.84 L560.33 483.42 L561.11 483.24 L561.89 483.63 L562.67 483.72 L563.44 483.38 L564.22 483.86 L565.00 484.06 L565.82 483.63 L566.63 483.90 L567.45 484.23 L568.26 483.96 L569.08 484.50 L569.89 484.22 L570.71 484.64 L571.52 484.32 L572.34 484.63 L573.15 484.98 L573.97 484.64 L574.78 484.77 L575.60 485.00" fill="none" stroke="#000000" stroke-width="1.3" stroke-linejoin="round" stroke-linecap="round"/>
<path d="M401.20 259.50 L401.20 37.50 L575.60 37.50 L575.60 259.50" fill="none" stroke="#000000" stroke-width="1.0" stroke-linejoin="miter" stroke-linecap="butt"/>
<path d="M401.20 120.00 L575.60 120.00" fill="none" stroke="#000000" stroke-width="1.0" stroke-linejoin="miter" stroke-linecap="butt"/>
<path d="M401.20 259.50 L575.60 259.50" fill="none" stroke="#000000" stroke-width="1.0" stroke-linejoin="miter" stroke-linecap="butt"/>
<path d="M401.20 497.60 L401.20 274.40 L575.60 274.40 L575.60 497.60" fill="none" stroke="#000000" stroke-width="1.0" stroke-linejoin="miter" stroke-linecap="butt"/>
<path d="M401.20 357.00 L575.60 357.00" fill="none" stroke="#000000" stroke-width="1.0" stroke-linejoin="miter" stroke-linecap="butt"/>
<path d="M401.20 497.60 L575.60 497.60" fill="none" stroke="#000000" stroke-width="1.0" stroke-linejoin="miter" stroke-linecap="butt"/>
<path d="M444.80 120.00 L444.80 123.40" fill="none" stroke="#000000" stroke-width="1.0" stroke-linejoin="miter" stroke-linecap="butt"/>
<path d="M488.40 120.00 L488.40 123.40" fill="none" stroke="#000000" stroke-width="1.0" stroke-linejoin="miter" stroke-linecap="butt"/>
<path d="M532.00 120.00 L532.00 123.40" fill="none" stroke="#000000" stroke-width="1.0" stroke-linejoin="miter" stroke-linecap="butt"/>
<path d="M401.20 259.50 L401.20 262.90" fill="none" stroke="#000000" stroke-width="1.0" stroke-linejoin="miter" stroke-linecap="butt"/>
<path d="M444.80 259.50 L444.80 262.90" fill="none" stroke="#000000" stroke-width="1.0" stroke-linejoin="miter" stroke-linecap="butt"/>
<path d="M488.40 259.50 L488.40 262.90" fill="none" stroke="#000000" stroke-width="1.0" stroke-linejoin="miter" stroke-linecap="butt"/>
<path d="M532.00 259.50 L532.00 262.90" fill="none" stroke="#000000" stroke-width="1.0" stroke-linejoin="miter" stroke-linecap="butt"/>
<path d="M575.60 259.50 L575.60 262.90" fill="none" stroke="#000000" stroke-width="1.0" stroke-linejoin="miter" stroke-linecap="butt"/>
<path d="M444.80 357.00 L444.80 360.40" fill="none" stroke="#000000" stroke-width="1.0" stroke-linejoin="miter" stroke-linecap="butt"/>
<path d="M488.40 357.00 L488.40 360.40" fill="none" stroke="#000000" stroke-width="1.0" stroke-linejoin="miter" stroke-linecap="butt"/>
<path d="M532.00 357.00 L532.00 360.40" fill="none" stroke="#000000" stroke-width="1.0" stroke-linejoin="miter" stroke-linecap="butt"/>
<path d="M401.20 497.60 L401.20 501.00" fill="none" stroke="#000000" stroke-width="1.0" stroke-linejoin="miter" stroke-linecap="butt"/>
<path d="M444.80 497.60 L444.80 501.00" fill="none" stroke="#000000" stroke-width="1.0" stroke-linejoin="miter" stroke-linecap="butt"/>
<path d="M488.40 497.60 L488.40 501.00" fill="none" stroke="#000000" stroke-width="1.0" stroke-linejoin="miter" stroke-linecap="butt"/>
<path d="M532.00 497.60 L532.00 501.00" fill="none" stroke="#000000" stroke-width="1.0" stroke-linejoin="miter" stroke-linecap="butt"/>
<path d="M575.60 497.60 L575.60 501.00" fill="none" stroke="#000000" stroke-width="1.0" stroke-linejoin="miter" stroke-linecap="butt"/>
<path d="M397.20 59.80 L401.20 59.80" fill="none" stroke="#000000" stroke-width="1.0" stroke-linejoin="miter" stroke-linecap="butt"/>
<text x="393.60" y="63.00" text-anchor="end" style="font-size:9.0px">0.50</text>
<path d="M397.20 120.00 L401.20 120.00" fill="none" stroke="#000000" stroke-width="1.0" stroke-linejoin="miter" stroke-linecap="butt"/>
<text x="393.60" y="123.20" text-anchor="end" style="font-size:9.0px">0.00</text>
<path d="M397.20 148.00 L401.20 148.00" fill="none" stroke="#000000" stroke-width="1.0" stroke-linejoin="miter" stroke-linecap="butt"/>
<text x="393.60" y="151.20" text-anchor="end" style="font-size:9.0px">0.90</text>
<path d="M397.20 195.20 L401.20 195.20" fill="none" stroke="#000000" stroke-width="1.0" stroke-linejoin="miter" stroke-linecap="butt"/>
<text x="393.60" y="198.40" text-anchor="end" style="font-size:9.0px">0.50</text>
<path d="M397.20 259.50 L401.20 259.50" fill="none" stroke="#000000" stroke-width="1.0" stroke-linejoin="miter" stroke-linecap="butt"/>
<text x="393.60" y="262.70" text-anchor="end" style="font-size:9.0px">0.00</text>
<path d="M575.60 59.80 L579.60 59.80" fill="none" stroke="#000000" stroke-width="1.0" stroke-linejoin="miter" stroke-linecap="butt"/>
<text x="583.60" y="62.90" textLength="15.80" lengthAdjust="spacingAndGlyphs" style="font-size:9.0px">0.10</text>
<path d="M575.60 120.00 L579.60 120.00" fill="none" stroke="#000000" stroke-width="1.0" stroke-linejoin="miter" stroke-linecap="butt"/>
<text x="583.60" y="123.10" textLength="17.80" lengthAdjust="spacingAndGlyphs" style="font-size:9.0px">0.00</text>
<path d="M575.60 140.00 L579.60 140.00" fill="none" stroke="#000000" stroke-width="1.0" stroke-linejoin="miter" stroke-linecap="butt"/>
<text x="583.60" y="143.10" textLength="17.80" lengthAdjust="spacingAndGlyphs" style="font-size:9.0px">0.20</text>
<path d="M575.60 200.00 L579.60 200.00" fill="none" stroke="#000000" stroke-width="1.0" stroke-linejoin="miter" stroke-linecap="butt"/>
<text x="583.60" y="203.10" textLength="15.80" lengthAdjust="spacingAndGlyphs" style="font-size:9.0px">0.10</text>
<path d="M575.60 259.50 L579.60 259.50" fill="none" stroke="#000000" stroke-width="1.0" stroke-linejoin="miter" stroke-linecap="butt"/>
<text x="583.60" y="262.60" textLength="17.80" lengthAdjust="spacingAndGlyphs" style="font-size:9.0px">0.00</text>
<path d="M575.60 293.20 L579.60 293.20" fill="none" stroke="#000000" stroke-width="1.0" stroke-linejoin="miter" stroke-linecap="butt"/>
<text x="583.60" y="296.30" textLength="17.80" lengthAdjust="spacingAndGlyphs" style="font-size:9.0px">0.20</text>
<path d="M575.60 325.20 L579.60 325.20" fill="none" stroke="#000000" stroke-width="1.0" stroke-linejoin="miter" stroke-linecap="butt"/>
<path d="M575.60 357.00 L579.60 357.00" fill="none" stroke="#000000" stroke-width="1.0" stroke-linejoin="miter" stroke-linecap="butt"/>
<text x="583.60" y="360.10" textLength="17.80" lengthAdjust="spacingAndGlyphs" style="font-size:9.0px">0.00</text>
<path d="M575.60 378.00 L579.60 378.00" fill="none" stroke="#000000" stroke-width="1.0" stroke-linejoin="miter" stroke-linecap="butt"/>
<text x="583.60" y="381.10" textLength="17.80" lengthAdjust="spacingAndGlyphs" style="font-size:9.0px">0.40</text>
<path d="M575.60 497.60 L579.60 497.60" fill="none" stroke="#000000" stroke-width="1.0" stroke-linejoin="miter" stroke-linecap="butt"/>
<text x="583.60" y="500.70" textLength="17.80" lengthAdjust="spacingAndGlyphs" style="font-size:9.0px">0.00</text>
<text x="401.20" y="512.30" text-anchor="middle" style="font-size:9.0px">3.0</text>
<text x="444.80" y="512.30" text-anchor="middle" style="font-size:9.0px">3.5</text>
<text x="488.40" y="512.30" text-anchor="middle" style="font-size:9.0px">4.0</text>
<text x="532.00" y="512.30" text-anchor="middle" style="font-size:9.0px">4.5</text>
<text x="575.60" y="512.30" text-anchor="middle" style="font-size:9.0px">5.0</text>
<text x="488.20" y="524.50" text-anchor="middle" textLength="77.00" lengthAdjust="spacingAndGlyphs">Retention time (min)</text>
<text x="404.40" y="50.60" textLength="64.40" lengthAdjust="spacingAndGlyphs">LZB033 wt + Met</text>
<text x="404.30" y="134.50" textLength="28.40" lengthAdjust="spacingAndGlyphs">LZB033</text>
<text x="437.0" y="134.5" font-style="italic" textLength="20.6" lengthAdjust="spacingAndGlyphs">dsyB<tspan font-size="5" dy="-3.6" font-style="normal">−</tspan></text>
<text x="458.40" y="134.50" textLength="20.20" lengthAdjust="spacingAndGlyphs">+ Met</text>
<text x="405.00" y="287.70" textLength="51.40" lengthAdjust="spacingAndGlyphs">J391 wt + Met</text>
<text x="405.00" y="370.20" textLength="98.40" lengthAdjust="spacingAndGlyphs">J391 wt + pBIO2258 + Met</text>
<text x="460.60" y="71.90" text-anchor="middle" textLength="24.00" lengthAdjust="spacingAndGlyphs">MTHB</text>
<text x="520.00" y="84.30" text-anchor="middle" textLength="24.00" lengthAdjust="spacingAndGlyphs">DMSP</text>
<text x="460.60" y="165.70" text-anchor="middle" textLength="24.00" lengthAdjust="spacingAndGlyphs">MTHB</text>
<text x="520.60" y="423.90" text-anchor="middle" textLength="24.00" lengthAdjust="spacingAndGlyphs">DMSP</text>
<text transform="translate(368.4 148.6) rotate(-90)" text-anchor="middle" textLength="65" lengthAdjust="spacingAndGlyphs">Intensity (MTHB)</text>
<text transform="translate(609.4 150.2) rotate(90)" text-anchor="middle" textLength="65" lengthAdjust="spacingAndGlyphs">Intensity (DMSP)</text>
<text transform="translate(609.8 386.6) rotate(90)" text-anchor="middle" textLength="65" lengthAdjust="spacingAndGlyphs">Intensity (DMSP)</text>
</svg>
</body></html>
